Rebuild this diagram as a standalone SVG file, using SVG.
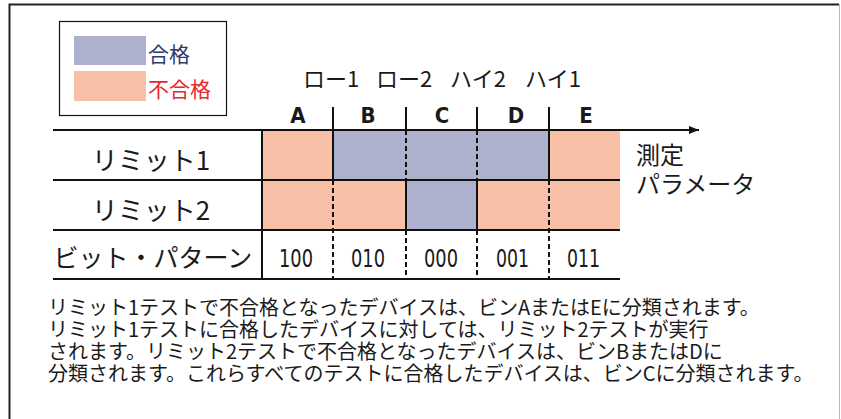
<svg xmlns="http://www.w3.org/2000/svg" width="841" height="419" viewBox="0 0 841 419">
<style>
.jp{font-family:"Noto Sans CJK JP","Noto Sans",sans-serif;fill:#1a1a1a}
.num{font-family:"Liberation Sans Narrow","DejaVu Sans Condensed","Liberation Sans",sans-serif;fill:#1a1a1a}
.pass{fill:#AEB1CD}
.fail{fill:#F8C0A6}
.ln{stroke:#111;stroke-width:2;fill:none}
.dl{stroke:#111;stroke-width:2;fill:none;stroke-dasharray:5 3}
</style>
<defs>
<marker id="arr" viewBox="0 0 10 8" refX="10" refY="4" markerWidth="10" markerHeight="8" markerUnits="userSpaceOnUse" orient="auto">
<path d="M0,0 L10,4 L0,8 Z" fill="#111"/>
</marker>
</defs>
<rect x="0" y="0" width="841" height="419" fill="#fff"/>
<g id="frame">
<path d="M9.5,419 V4.5 H839" stroke="#222" stroke-width="2" fill="none"/>
<line x1="839.5" y1="4" x2="839.5" y2="419" stroke="#bbb" stroke-width="1"/>
</g>
<g id="legend">
<rect x="59.5" y="21.5" width="167" height="94" fill="#fff" stroke="#111" stroke-width="1.2"/>
<rect class="pass" x="74" y="36" width="72" height="29"/>
<rect class="fail" x="74" y="71" width="72" height="30"/>
<text class="jp" x="148" y="62" font-size="21" style="fill:#2E3A6C">合格</text>
<text class="jp" x="148" y="97" font-size="21" style="fill:#E8262C">不合格</text>
</g>
<g id="cells">
<rect class="fail" x="262" y="130" width="71" height="50"/>
<rect class="pass" x="333" y="130" width="216" height="50"/>
<rect class="fail" x="549" y="130" width="71" height="50"/>
<rect class="fail" x="262" y="180" width="144" height="50"/>
<rect class="pass" x="406" y="180" width="71" height="50"/>
<rect class="fail" x="477" y="180" width="143" height="50"/>
</g>
<g id="connectors">
<line class="ln" x1="53" y1="130" x2="699" y2="130" marker-end="url(#arr)"/>
<line class="ln" x1="53" y1="180" x2="620" y2="180"/>
<line class="ln" x1="53" y1="230" x2="620" y2="230"/>
<line class="ln" x1="53" y1="279" x2="620" y2="279"/>
<line class="ln" x1="262" y1="130" x2="262" y2="279"/>
<line class="ln" x1="333" y1="107" x2="333" y2="180"/>
<line class="dl" x1="333" y1="180" x2="333" y2="279"/>
<line class="ln" x1="406" y1="107" x2="406" y2="130"/>
<line class="dl" x1="406" y1="130" x2="406" y2="180"/>
<line class="ln" x1="406" y1="180" x2="406" y2="230"/>
<line class="dl" x1="406" y1="230" x2="406" y2="279"/>
<line class="ln" x1="477" y1="107" x2="477" y2="130"/>
<line class="dl" x1="477" y1="130" x2="477" y2="180"/>
<line class="ln" x1="477" y1="180" x2="477" y2="230"/>
<line class="dl" x1="477" y1="230" x2="477" y2="279"/>
<line class="ln" x1="549" y1="107" x2="549" y2="180"/>
<line class="dl" x1="549" y1="180" x2="549" y2="279"/>
</g>
<g id="limits-header">
<text class="jp" y="87" font-size="22" text-anchor="middle"><tspan x="331">ロー1</tspan><tspan x="404">ロー2</tspan><tspan x="478">ハイ2</tspan><tspan x="553">ハイ1</tspan></text>
</g>
<g id="bins">
<text class="num" y="123" font-size="22" font-weight="bold" text-anchor="middle"><tspan x="298">A</tspan><tspan x="368">B</tspan><tspan x="442">C</tspan><tspan x="516">D</tspan><tspan x="586">E</tspan></text>
</g>
<g id="row-labels">
<text class="jp" x="151" y="170" font-size="26" text-anchor="middle">リミット1</text>
<text class="jp" x="151" y="220" font-size="26" text-anchor="middle">リミット2</text>
<text class="jp" x="153" y="267" font-size="25" text-anchor="middle">ビット・パターン</text>
</g>
<g id="bit-patterns">
<text class="num" x="279" y="267" font-size="25" textLength="34" lengthAdjust="spacingAndGlyphs">100</text>
<text class="num" x="351" y="267" font-size="25" textLength="34" lengthAdjust="spacingAndGlyphs">010</text>
<text class="num" x="424" y="267" font-size="25" textLength="34" lengthAdjust="spacingAndGlyphs">000</text>
<text class="num" x="496" y="267" font-size="25" textLength="33" lengthAdjust="spacingAndGlyphs">001</text>
<text class="num" x="567" y="267" font-size="25" textLength="33" lengthAdjust="spacingAndGlyphs">011</text>
</g>
<g id="axis-label">
<text class="jp" x="636" y="164" font-size="24">測定</text>
<text class="jp" x="636" y="193" font-size="24">パラメータ</text>
</g>
<g id="description">
<text class="jp" font-size="20"><tspan x="48" y="315">リミット1テストで不合格となったデバイスは、ビンAまたはEに分類されます。</tspan><tspan x="48" y="337">リミット1テストに合格したデバイスに対しては、リミット2テストが実行</tspan><tspan x="48" y="359">されます。リミット2テストで不合格となったデバイスは、ビンBまたはDに</tspan><tspan x="48" y="381">分類されます。これらすべてのテストに合格したデバイスは、ビンCに分類されます。</tspan></text>
</g>
</svg>
